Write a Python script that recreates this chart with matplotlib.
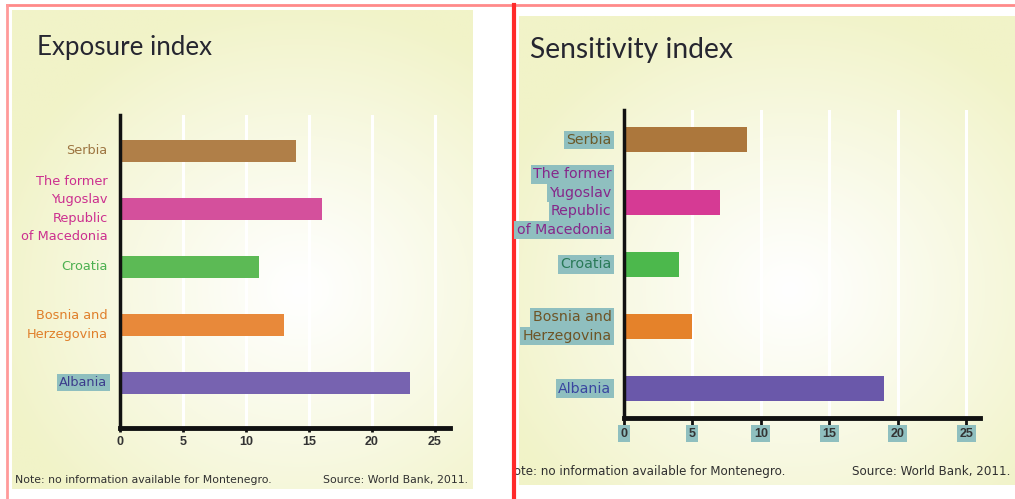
import numpy as np
import matplotlib.pyplot as plt
from matplotlib.transforms import Bbox

# Country labels, bottom to top
countries = ["Albania", "Bosnia and\nHerzegovina", "Croatia",
             "The former\nYugoslav\nRepublic\nof Macedonia", "Serbia"]
exposure = [23, 13, 11, 16, 14]
sensitivity = [19, 5, 4, 7, 9]
ticks = [0, 5, 10, 15, 20, 25]

bar_colors_exp = ["#7763b0", "#e8893a", "#5cba55", "#d4509c", "#b07f48"]
bar_colors_sen = ["#6a58aa", "#e5822a", "#4cb84c", "#d63a94", "#ac773c"]
label_colors_exp = ["#3c3c8c", "#e07f2a", "#4cb050", "#cc2f8f", "#9c7440"]
label_colors_sen = ["#3a46a0", "#6e5426", "#2a7a58", "#86288a", "#6b5a2a"]

TEAL = "#8fbfbf"
TICK_FONT = "Liberation Sans"
W, H = 1015, 499

fig = plt.figure(figsize=(W / 100, H / 100), dpi=100)
fig.patch.set_facecolor("white")

# background layer in pixel coordinates
bg = fig.add_axes([0, 0, 1, 1])
bg.axis("off")


def panel(x0, y0, x1, y1, cx, cy):
    xs = np.linspace(x0, x1, 300)
    ys = np.linspace(y0, y1, 300)
    X, Y = np.meshgrid(xs, ys)
    r = np.sqrt(((X - cx) / 320) ** 2 + ((Y - cy) / 290) ** 2)
    t = np.clip(r, 0, 1) ** 1.1
    edge = np.array([241, 243, 200]) / 255
    img = (1 - t)[..., None] * np.ones(3) + t[..., None] * edge
    bg.imshow(img, extent=(x0, x1, y1, y0), aspect="auto", zorder=0)


panel(12, 10, 473, 489, 300, 290)
panel(519, 16, W, 485, 790, 290)
bg.set_xlim(0, W)
bg.set_ylim(H, 0)
# frame lines
bg.plot([7, W], [5, 5], color="#ff8a8a", lw=2, zorder=2)
bg.plot([7, 7], [5, H], color="#ff9a9a", lw=2, zorder=2)
bg.plot([514, 514], [5, H], color="#ff2a2a", lw=3, zorder=2)


def px_axes(x0, y0, x1, y1):
    return fig.add_axes([x0 / W, 1 - y1 / H, (x1 - x0) / W, (y1 - y0) / H])


def draw_index(ax, values, bar_cols, lab_cols, xmax, ylim, height,
               highlight, fs, title, title_xy, title_fs,
               note_y, note_x, src_x, note_fs):
    ypos = np.arange(len(countries))
    ax.set_facecolor("none")
    ax.barh(ypos, values, height=height, color=bar_cols, zorder=2)
    ax.set_xlim(0, xmax)
    ax.set_ylim(*ylim)
    ax.set_xticks(ticks)
    ax.set_yticks([])
    ax.xaxis.grid(True, color="white", lw=2.2, zorder=1)
    ax.set_axisbelow(True)
    for s in ("top", "right"):
        ax.spines[s].set_visible(False)
    ax.spines["left"].set_linewidth(2.5)
    ax.spines["bottom"].set_linewidth(3.5)
    for s in ("left", "bottom"):
        ax.spines[s].set_color("#111111")
        ax.spines[s].set_zorder(3)
    for lbl in ax.get_xticklabels():
        lbl.set_family(TICK_FONT)
        lbl.set_fontweight("bold")

    for i, lab in enumerate(countries):
        lines = lab.split("\n")
        n = len(lines)
        for k, line in enumerate(lines):
            off = ((n - 1) / 2 - k) * 13.3
            kw = {}
            if highlight[i]:
                kw["bbox"] = dict(boxstyle="square,pad=0.16", fc=TEAL, ec="none")
            ax.annotate(line, xy=(0, ypos[i]), xycoords=("axes fraction", "data"),
                        xytext=(-9, off), textcoords="offset points",
                        ha="right", va="center", fontsize=fs,
                        family="DejaVu Sans", color=lab_cols[i],
                        annotation_clip=False, **kw)

    fig.text(title_xy[0] / W, 1 - title_xy[1] / H, title, fontsize=title_fs,
             family="Lato", color="#262630", va="center", ha="left")
    note = fig.text(note_x / W, 1 - note_y / H,
                    "Note: no information available for Montenegro.",
                    fontsize=note_fs, family="DejaVu Sans", color="#303030",
                    va="center", ha="left")
    fig.text(src_x / W, 1 - note_y / H, "Source: World Bank, 2011.",
             fontsize=note_fs, family="DejaVu Sans", color="#303030",
             va="center", ha="right")
    return note


ax1 = px_axes(120, 115, 450, 428)
draw_index(ax1, exposure, bar_colors_exp, label_colors_exp, 26.2,
           (-0.78, 4.62), 0.38, [True, False, False, False, False], 9.3,
           "Exposure index", (37, 47), 18.6, 480, 15, 468, 7.8)
ax1.tick_params(axis="x", length=3, width=2, color="#111111", pad=3,
                labelsize=9, labelcolor="#333333")

ax2 = px_axes(624, 110, 980, 418)
note2 = draw_index(ax2, sensitivity, bar_colors_sen, label_colors_sen, 26.0,
                   (-0.47, 4.48), 0.4, [True] * 5, 10.2,
                   "Sensitivity index", (530, 50), 20.3, 472, 505, 1010, 8.6)
ax2.tick_params(axis="x", length=5, width=2, color="#111111", pad=2,
                labelsize=9, labelcolor="#333333")
for lbl in ax2.get_xticklabels():
    lbl.set_bbox(dict(boxstyle="square,pad=0.2", fc=TEAL, ec="none"))
# the note's first letter sits behind the divider line
note2.set_clip_on(True)
note2.set_clip_box(Bbox.from_extents(516, 0, W, H))

fig.savefig("out.png", dpi=100)
